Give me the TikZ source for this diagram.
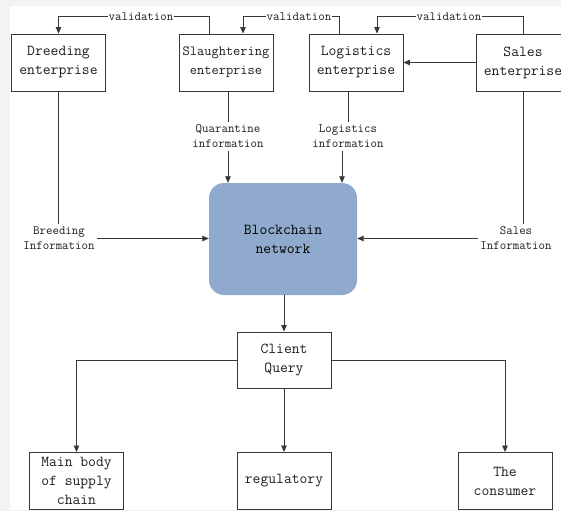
\documentclass[tikz,border=0pt]{standalone}
\usepackage{fontspec}
\usetikzlibrary{arrows.meta}
\definecolor{chainfill}{RGB}{143,170,204}
\definecolor{linecol}{RGB}{55,55,55}
\definecolor{txtcol}{RGB}{30,30,30}
\definecolor{bggray}{RGB}{243,243,243}
\begin{document}
\begin{tikzpicture}[x=1pt,y=-1pt,
  box/.style={draw=linecol, line width=0.9pt, fill=white, minimum width=94pt, minimum height=57pt,
    inner sep=0pt, align=center, text=txtcol, font=\fontsize{15.2}{19}\selectfont\ttfamily},
  chain/.style={fill=chainfill, rounded corners=15pt, minimum width=148pt, minimum height=112pt,
    inner sep=0pt, align=center, text={RGB:red,40;green,45;blue,65}, font=\fontsize{15.2}{19}\selectfont\ttfamily},
  lbl/.style={fill=white, inner sep=2.5pt, align=center, text=txtcol, font=\fontsize{12.6}{15}\selectfont\ttfamily},
  ln/.style={draw=linecol, line width=0.8pt},
  arr/.style={ln, -{Triangle[length=6.5pt,width=5.5pt]}}
]
\useasboundingbox (0,0) rectangle (561,511);
\clip (0,0) rectangle (561,511);
\fill[bggray] (0,0) rectangle (561,511);
\fill[white] (10,6) rectangle (561,510);

% nodes
\node[box] (dre) at (58.5,62.5) {Dreeding\\enterprise};
\node[box, font=\fontsize{14}{19}\selectfont\ttfamily] (sla) at (226,62.5) {Slaughtering\\enterprise};
\node[box] (log) at (356,62.5) {Logistics\\enterprise};
\node[box] (sal) at (523,62.5) {Sales\\enterprise};
\node[chain] (bc) at (283,239) {Blockchain\\network};
\node[box, minimum height=56pt] (cq) at (284,360) {Client\\Query};
\node[box] (mb) at (76.5,481) {Main body\\of supply\\chain};
\node[box] (reg) at (284,481) {regulatory};
\node[box] (con) at (505,481) {The\\consumer};

% validation connectors
\draw[arr] ([xshift=-17pt]sla.north) -- ++(0,-17) -| (dre.north);
\draw[arr] ([xshift=-17pt]log.north) -- ++(0,-17) -| ([xshift=17pt]sla.north);
\draw[arr] (sal.north) -- ++(0,-17) -| ([xshift=21pt]log.north);
\node[lbl, inner sep=1pt] (v1) at (141,17) {validation};
\node[lbl, inner sep=1pt] (v2) at (299,17) {validation};
\node[lbl, inner sep=1pt] (v3) at (449,17) {validation};

\draw[arr] (sal.west) -- (log.east);

% information labels
\node[lbl] (qi) at (228,136.5) {Quarantine\\information};
\node[lbl] (li) at (348,136.5) {Logistics\\information};
\node[lbl] (bi) at (59,238.5) {Breeding\\Information};
\node[lbl] (si) at (516,238.5) {Sales\\Information};

\draw[ln] (sla.south -| qi.north) -- (qi.north);
\draw[arr] (qi.south) -- (qi.south |- bc.north);
\draw[ln] (log.south -| li.north) -- (li.north);
\draw[arr] ([xshift=-6pt]li.south) -- ([xshift=-6pt]li.south |- bc.north);
\draw[ln] (dre.south) -- (dre.south |- bi.north);
\draw[arr] (bi.east) -- (bi.east -| bc.west);
\draw[ln] (sal.south) -- (sal.south |- si.north);
\draw[arr] (si.west) -- (si.west -| bc.east);

% query
\draw[arr] (cq.north |- bc.south) -- (cq.north);
\draw[arr] (cq.west) -| (mb.north);
\draw[arr] (cq.south) -- (reg.north);
\draw[arr] (cq.east) -| (con.north);
\end{tikzpicture}
\end{document}
